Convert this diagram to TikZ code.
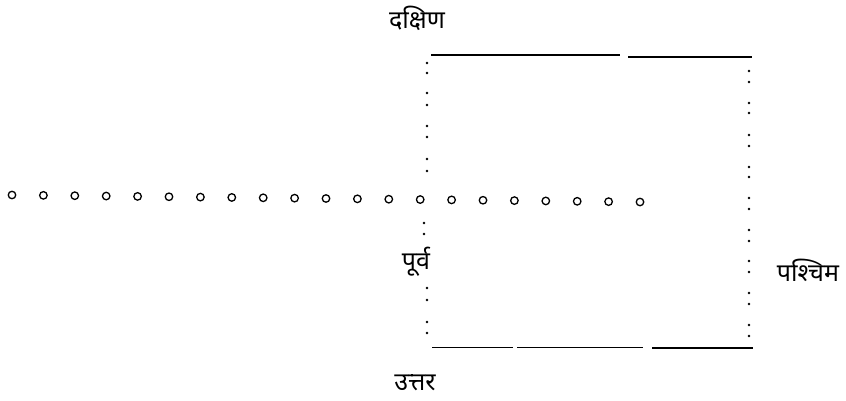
\documentclass[tikz,border=0pt]{standalone}
\usepackage{fontspec}
\newfontfamily\devfont[Script=Devanagari]{Noto Sans}
\begin{document}
\begin{tikzpicture}[x=1pt,y=-1pt,
  ring/.style={circle,draw,line width=1.3pt,inner sep=0pt,minimum size=7.5pt},
  dotmark/.style={circle,fill,inner sep=0pt,minimum size=2.8pt},
  edge/.style={line width=1.4pt},
  lbl/.style={font=\devfont\fontsize{25}{30}\selectfont,inner sep=0pt}]
\useasboundingbox (0,0) rectangle (846,401);
% labels
\node[lbl] (south) at (417,18) {दक्षिण};
\node[lbl] (north) at (415,383) {उत्तर};
\node[lbl] (east) at (416,262) {पूर्व};
\node[lbl] (west) at (808,270) {पश्चिम};
% top edge
\coordinate (t1) at (431,55);
\coordinate (t2) at (620,55);
\coordinate (t3) at (628,57);
\coordinate (t4) at (752,57);
\draw[edge] (t1) -- (t2);
\draw[edge] (t3) -- (t4);
% bottom edge
\coordinate (b1) at (432,347);
\coordinate (b2) at (513,347);
\coordinate (b3) at (517,347);
\coordinate (b4) at (643,347);
\coordinate (b5) at (652,348);
\coordinate (b6) at (753,348);
\draw[line width=1pt] (b1) -- (b2);
\draw[line width=1pt] (b3) -- (b4);
\draw[edge] (b5) -- (b6);
% left dotted edge
\foreach \y [count=\i] in {63,73,93,105,126,137,159,171} {
  \node[dotmark] (l\i) at (427,\y) {};
}
\foreach \y [count=\i] in {223,234} {
  \node[dotmark] (lm\i) at (424,\y) {};
}
\foreach \y [count=\i] in {288,300,322,333} {
  \node[dotmark] (lb\i) at (427,\y) {};
}
% right dotted edge
\foreach \y [count=\i] in {71,82,103,113,135,146,167,177,198,209,230,241,261,272,293,304,325,336} {
  \node[dotmark] (r\i) at (749,\y) {};
}
% row of rings
\foreach \i in {0,...,20} {
  \pgfmathsetmacro{\xx}{12+\i*31.4}
  \pgfmathsetmacro{\yy}{195+7*\i/20}
  \node[ring] (c\i) at (\xx,\yy) {};
}
\end{tikzpicture}
\end{document}
